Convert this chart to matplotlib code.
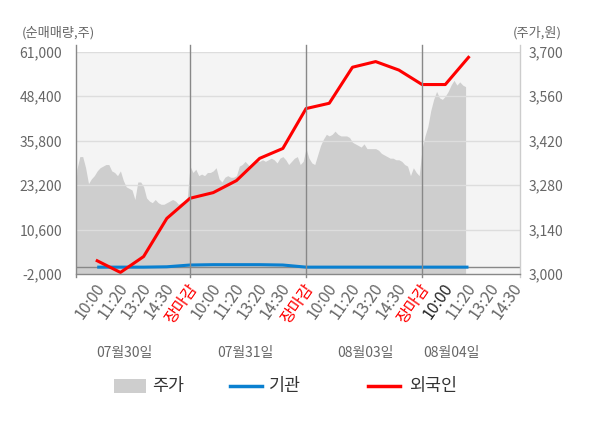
import numpy as np
import matplotlib
matplotlib.use("Agg")
import matplotlib.pyplot as plt
from matplotlib.lines import Line2D
from matplotlib.patches import Rectangle
import matplotlib.transforms as mtrans

plt.rcParams["font.family"] = ["Noto Sans CJK KR", "DejaVu Sans"]

# 주가 (one value every ~10 minutes, 40 per trading day)
price_d1 = [3155, 3330, 3370, 3370, 3335, 3285, 3300, 3310, 3325, 3335,
            3340, 3345, 3345, 3325, 3320, 3310, 3325, 3295, 3275, 3270,
            3265, 3235, 3290, 3290, 3275, 3240, 3230, 3225, 3235, 3225,
            3220, 3220, 3225, 3230, 3235, 3230, 3220, 3225, 3230, 3235]
price_d2 = [3340, 3320, 3330, 3310, 3315, 3310, 3320, 3320, 3325, 3335,
            3300, 3290, 3305, 3310, 3305, 3305, 3310, 3340, 3345, 3355,
            3345, 3335, 3350, 3355, 3355, 3360, 3355, 3360, 3365, 3360,
            3350, 3365, 3370, 3360, 3345, 3355, 3365, 3370, 3345, 3355]
price_d3 = [3395, 3365, 3350, 3345, 3375, 3405, 3425, 3440, 3435, 3440,
            3450, 3440, 3435, 3435, 3435, 3430, 3415, 3410, 3405, 3400,
            3410, 3395, 3395, 3395, 3395, 3390, 3380, 3375, 3370, 3365,
            3365, 3360, 3360, 3355, 3345, 3340, 3310, 3335, 3320, 3310]
price_d4 = [3395, 3435, 3465, 3515, 3550, 3575, 3555, 3550, 3560, 3575,
            3595, 3610, 3595, 3605, 3595, 3590]
PER_DAY = 40

# 순매매량 at each time tick
foreign = [1800, -1500, 3000, 13800, 19500, 21100, 24500, 30800, 33600,
           44900, 46400, 56600, 58200, 55800, 51700, 51700, 59400]
inst = [0, 0, 0, 100, 600, 700, 700, 700, 600, 0, 0, 0, 0, 0, 0, 0, 0]

times = ["10:00", "11:20", "13:20", "14:30", "장마감"]
days = ["07월30일", "07월31일", "08월03일", "08월04일"]
vol_ticks = [-2000, 10600, 23200, 35800, 48400, 61000]
price_ticks = [3000, 3140, 3280, 3420, 3560, 3700]

price = price_d1 + price_d2 + price_d3 + price_d4
xp = np.arange(len(price)) * 5 / PER_DAY
xt = np.arange(1, len(foreign) + 1)

fig = plt.figure(figsize=(6, 4.28), dpi=100)
ax = fig.add_axes([76/600, 1-274.2/428, 444/600, 222.5/428])
ax2 = ax.twinx()

ax.set_facecolor("#f4f4f4")
ax.fill_between(xp, price, 2900, color="#cecece", lw=0, zorder=1)
ax.set_ylim(3000, 3700)
ax.set_xlim(0.086, 19.22)
ax.yaxis.tick_right()
ax.set_yticks(price_ticks)
ax.set_yticklabels([f"{v:,}" for v in price_ticks])
for v in price_ticks[1:]:
    ax.axhline(v, color="#dddddd", lw=1, zorder=2)

ax2.yaxis.tick_left()
ax2.set_ylim(-2000, 61000)
ax2.set_yticks(vol_ticks)
ax2.set_yticklabels([f"{v:,}" for v in vol_ticks])
ax2.axhline(0, color="#888888", lw=1)
ax2.plot(xt, inst, color="#0a80d0", lw=2.2, solid_capstyle="butt")
ax2.plot(xt, foreign, color="#ff0000", lw=2.2)

for a in (ax, ax2):
    for s in a.spines.values():
        s.set_visible(False)
    a.tick_params(length=0, labelsize=10, labelcolor="#666666")
ax.tick_params(axis="y", pad=6)
ax2.tick_params(axis="y", pad=10)

# frame lines that run past the plot box
tr = mtrans.blended_transform_factory(ax.transData, ax.transAxes)
for xv in (0.086, 5, 10, 15):
    ax2.add_line(Line2D([xv, xv], [-0.014, 1.031], transform=tr, color="#888888",
                        lw=1, clip_on=False))
ax2.add_line(Line2D([19.22, 19.22], [-0.014, 1.031], transform=tr, color="#cccccc",
                    lw=1, clip_on=False))
ax2.add_line(Line2D([0.086, 19.22], [0, 0], transform=tr, color="#888888",
                    lw=1, clip_on=False))

# x tick labels
labels = [t for _ in days for t in times][:-1]
ax.set_xticks(np.arange(1, len(labels) + 1))
ax.set_xticklabels(labels, rotation=55, ha="right", va="center",
                   rotation_mode="anchor", fontsize=11.5)
ax.tick_params(axis="x", pad=8)
offset = mtrans.ScaledTranslation(4/100, 0, fig.dpi_scale_trans)
for i, lab in enumerate(ax.get_xticklabels()):
    lab.set_transform(lab.get_transform() + offset)
    if lab.get_text() == "장마감":
        lab.set_color("#ff0000")
    elif i == 15:
        lab.set_color("#222222")

trd = mtrans.blended_transform_factory(ax.transData, fig.transFigure)
for xv, d in zip([2.18, 7.37, 12.56, 16.28], days):
    ax.text(xv, 1-353/428, d, transform=trd, ha="center", va="center",
            fontsize=10, color="#666666")

fig.text(22/600, 1-33/428, "(순매매량,주)", fontsize=9.5, color="#666666",
         ha="left", va="center")
fig.text(562/600, 1-33/428, "(주가,원)", fontsize=9.5, color="#666666",
         ha="right", va="center")

# legend
ly = 1 - 385.5/428
fig.add_artist(Rectangle((114/600, ly - 7/428), 32/600, 14/428,
                         transform=fig.transFigure, color="#cecece", lw=0))
fig.text(152/600, ly, "주가", fontsize=12.5, color="#333333", va="center")
fig.add_artist(Line2D([230/600, 262/600], [ly, ly], transform=fig.transFigure,
                      color="#0a80d0", lw=2.5))
fig.text(269/600, ly, "기관", fontsize=12.5, color="#333333", va="center")
fig.add_artist(Line2D([368/600, 400/600], [ly, ly], transform=fig.transFigure,
                      color="#ff0000", lw=2.5))
fig.text(409/600, ly, "외국인", fontsize=12.5, color="#333333", va="center")

fig.savefig("out.png", dpi=100)
